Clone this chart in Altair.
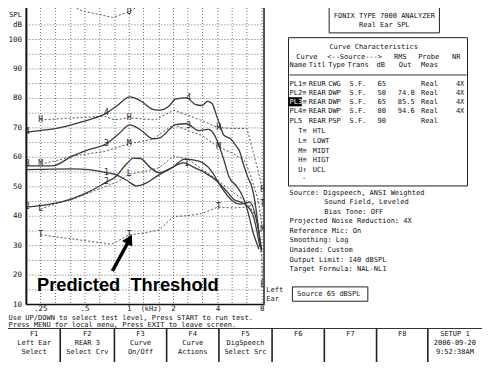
import altair as alt
import pandas as pd

# ------------------------------------------------------------------ data
# measured curves: frequency (kHz) / level (dB SPL)
pl1_f = [0.2, 0.41, 0.53, 0.70, 0.83, 0.96, 1.12, 1.31, 1.5, 1.88, 2.35, 2.77, 3.26, 4.0, 4.68, 5.13, 5.69, 6.34, 6.95, 7.72]
pl1_db = [55.8, 56.1, 55.8, 54.8, 53.9, 52.2, 50.3, 51.3, 53.2, 56.1, 58.1, 56.5, 54.8, 51.6, 48.0, 45.7, 44.8, 43.5, 40.2, 29.5]

pl2_f = [0.2, 0.29, 0.41, 0.53, 0.70, 0.8, 0.96, 1.07, 1.19, 1.39, 1.6, 1.96, 2.38, 2.97, 3.6, 4.2, 4.9, 5.7, 6.6, 7.5, 7.95]
pl2_db = [43.1, 44.1, 46.0, 48.3, 51.6, 53.2, 57.8, 59.7, 59.6, 56.5, 54.8, 56.5, 59.4, 58.7, 55.5, 50.0, 45.7, 44.1, 44.8, 36.0, 28.5]

pl3_f = [0.2, 0.3, 0.41, 0.53, 0.70, 0.85, 1.01, 1.2, 1.45, 1.6, 1.88, 2.06, 2.45, 2.97, 3.44, 3.77, 4.06, 4.4, 4.75, 5.4, 5.9, 6.4, 6.9, 7.6]
pl3_db = [57.1, 57.1, 60.4, 62.6, 64.6, 68.0, 71.0, 69.2, 66.3, 66.5, 69.5, 71.1, 71.4, 69.1, 69.5, 67.8, 64.2, 59.0, 53.5, 50.0, 46.7, 41.5, 35.0, 28.8]

pl4_f = [0.2, 0.247, 0.32, 0.41, 0.53, 0.70, 0.83, 1.01, 1.19, 1.45, 1.6, 1.88, 2.06, 2.45, 2.8, 3.1, 3.4, 3.65, 3.9, 4.15, 4.4, 4.9, 5.3, 5.6, 5.95, 6.4, 6.8, 7.1, 7.5, 7.9]
pl4_db = [68.5, 69.1, 69.8, 71.1, 72.7, 75.0, 77.6, 80.5, 79.2, 76.3, 76.0, 77.6, 79.8, 80.2, 78.0, 77.6, 79.0, 78.3, 74.5, 70.5, 67.5, 66.2, 64.0, 62.2, 57.8, 53.2, 50.0, 45.7, 37.0, 28.0]

# targets / thresholds
higt_f = [0.25, 0.68, 0.79, 1.0, 1.5, 2.0, 2.5, 3.15, 4.0, 5.0, 6.3, 6.85, 7.5, 8.05]
higt_db = [72.7, 74.0, 72.7, 73.4, 72.7, 76.0, 74.3, 72.4, 70.1, 69.8, 69.8, 63.0, 55.5, 49.0]
midt_f = [0.25, 0.31, 0.41, 0.68, 1.0, 1.45, 2.0, 2.5, 3.1, 4.0, 5.0, 6.1, 6.6, 7.5, 8.05]
midt_db = [57.8, 58.7, 60.4, 62.0, 64.6, 66.2, 71.1, 69.1, 67.5, 63.6, 61.5, 58.7, 54.5, 45.7, 35.3]
lowt_f = [0.25, 0.31, 0.41, 0.68, 0.83, 1.0, 1.25, 1.6, 2.0, 2.5, 3.1, 4.0, 5.1, 6.3, 7.4, 7.95, 8.05]
lowt_db = [42.5, 44.1, 45.7, 50.0, 51.6, 54.3, 55.1, 56.5, 60.4, 59.4, 56.1, 52.2, 48.0, 44.8, 39.2, 26.0, 16.5]
htl_f = [0.25, 0.76, 1.0, 1.3, 1.6, 2.0, 2.5, 3.1, 4.0, 5.1, 6.3, 7.4, 8.05]
htl_db = [33.7, 30.5, 33.7, 34.4, 35.4, 39.9, 40.2, 40.9, 43.1, 42.8, 43.1, 44.8, 44.1]
ucl_f = [0.35, 0.48, 0.77, 1.0, 1.3]
ucl_db = [113.0, 109.7, 107.5, 109.4, 113.0]

# curve label characters drawn on the curves
mk_solid_f = [0.203, 0.70, 2.53, 0.203, 0.70, 2.53, 0.203, 0.70, 0.70, 2.45]
mk_solid_db = [68.5, 75.0, 80.0, 57.6, 64.6, 70.6, 43.1, 51.6, 54.6, 57.8]
mk_solid_t = ['4', '4', '4', '3', '3', '3', '2', '2', '1', '1']
mk_tgt_f = [0.25, 1.0, 4.05, 8.05, 0.25, 1.0, 4.05, 8.05, 0.25, 1.0, 8.05, 0.25, 1.0, 4.05, 8.05, 1.0]
mk_tgt_db = [72.7, 73.4, 70.1, 49.0, 57.8, 64.6, 63.6, 35.3, 42.5, 54.3, 16.5, 33.7, 33.7, 43.1, 44.1, 109.4]
mk_tgt_t = ['H', 'H', 'H', 'H', 'M', 'M', 'M', 'M', 'L', 'L', 'L', 'T', 'T', 'T', 'T', 'U']

# axes
grid_f = [0.2, 0.25, 0.315, 0.4, 0.5, 0.63, 0.8, 1.0, 1.25, 1.6, 2.0, 2.5, 3.15, 4.0, 5.0, 6.3, 8.0]
grid_db = list(range(10, 106, 5))
xtick_f = [0.25, 0.5, 1.0, 2.0, 4.0, 8.0]
xtick_t = ['.25', '.5', '1', '2', '4', '8']
ytick_db = [10, 20, 30, 40, 50, 60, 70, 80, 90, 100, 105]
ytick_t = ['10', '20', '30', '40', '50', '60', '70', '80', '90', '100', 'dB']

# annotation
note_text = "Predicted\u00a0 Threshold"
note_f, note_db = 0.236, 16.2
arrow_f = [0.768, 0.99]
arrow_db = [21.4, 31.5]
arrow_head_f, arrow_head_db = 1.004, 32.2

# ------------------------------------------------------------------ layout
MONO = "DejaVu Sans Mono"
SX, SY = 474 / 490, 354 / 370
L_REF, R_REF, B_REF = 19, 265.2, 310
W = (R_REF - L_REF) * SX
H = B_REF * SY
PAD_L = L_REF * SX
PAD_R = 474 - PAD_L - W
PAD_B = 354 - H


def X(xr):
    return xr * SX - PAD_L


def Y(yr):
    return yr * SY


xscale = alt.Scale(type='log', domain=[0.2, 8.3], nice=False)
yscale = alt.Scale(domain=[10, 110.7], nice=False, zero=False)


def xf(field='f'):
    return alt.X(field + ':Q', scale=xscale, axis=None)


def yf(field='db'):
    return alt.Y(field + ':Q', scale=yscale, axis=None)


def curve_df(series):
    rows = []
    for name, fs, ds in series:
        for f, d in zip(fs, ds):
            rows.append({'f': f, 'db': d, 'curve': name})
    return pd.DataFrame(rows)


solid = curve_df([('PL1', pl1_f, pl1_db), ('PL2', pl2_f, pl2_db),
                  ('PL3', pl3_f, pl3_db), ('PL4', pl4_f, pl4_db)])
dashed = curve_df([('H', higt_f, higt_db), ('M', midt_f, midt_db), ('L', lowt_f, lowt_db),
                   ('T', htl_f, htl_db), ('U', ucl_f, ucl_db)])

# grid + axis lines
vgrid = alt.Chart(pd.DataFrame({'f': grid_f})).mark_rule(color='#707070', strokeWidth=1, strokeDash=[1, 2]).encode(
    x=xf(), y=alt.value(0), y2=alt.value(H))
hgrid = alt.Chart(pd.DataFrame({'db': grid_db})).mark_rule(color='#707070', strokeWidth=1, strokeDash=[1, 2]).encode(
    y=yf(), x=alt.value(0), x2=alt.value(W))
left_axis = alt.Chart(pd.DataFrame({'a': [0]})).mark_rule(color='#111', strokeWidth=2).encode(
    x=alt.value(0), y=alt.value(0), y2=alt.value(H))
bottom_axis = alt.Chart(pd.DataFrame({'a': [0]})).mark_rule(color='#111', strokeWidth=1.5).encode(
    y=alt.value(H), x=alt.value(0), x2=alt.value(W))
right_border = alt.Chart(pd.DataFrame({'a': [0]})).mark_rule(color='#555', strokeWidth=2).encode(
    x=alt.value(W - 0.5), y=alt.value(0), y2=alt.value(H))
xlabels = alt.Chart(pd.DataFrame({'f': xtick_f, 't': xtick_t})).mark_text(
    font=MONO, fontSize=7.5, color='#111', baseline='middle').encode(x=xf(), y=alt.value(Y(314.5)), text='t:N')
ylabels = alt.Chart(pd.DataFrame({'db': ytick_db, 't': ytick_t})).mark_text(
    font=MONO, fontSize=7.5, color='#111', baseline='middle', align='right').encode(
    y=yf(), x=alt.value(X(14.5)), text='t:N')

solid_layer = alt.Chart(solid).mark_line(color='#3a3a3a', strokeWidth=1.3, interpolate='monotone', clip=True).encode(
    x=xf(), y=yf(), detail='curve:N')
dashed_layer = alt.Chart(dashed).mark_line(color='#555', strokeWidth=1, strokeDash=[2, 2], clip=True).encode(
    x=xf(), y=yf(), detail='curve:N')

mk = pd.DataFrame({'f': mk_solid_f + mk_tgt_f, 'db': mk_solid_db + mk_tgt_db, 't': mk_solid_t + mk_tgt_t})
mk_layer = alt.Chart(mk).mark_text(font=MONO, fontSize=8, color='#222', clip=True).encode(
    x=xf(), y=yf(), text='t:N')

arrow_layer = alt.Chart(pd.DataFrame({'f': arrow_f, 'db': arrow_db})).mark_line(color='black', strokeWidth=3.5).encode(
    x=xf(), y=yf())
head_layer = alt.Chart(pd.DataFrame({'f': [arrow_head_f], 'db': [arrow_head_db]})).mark_point(
    shape='triangle-up', size=135, filled=True, color='black', opacity=1, angle=28).encode(x=xf(), y=yf())
note_layer = alt.Chart(pd.DataFrame({'nf': [note_f], 'nd': [note_db], 't': [note_text]})).mark_text(
    font='Liberation Sans', fontWeight='bold', fontSize=18.3, align='left', baseline='middle', color='black').encode(
    x=xf('nf'), y=yf('nd'), text='t:N')


# ---- decoration helpers (panel text, boxes) in reference pixels
def text_layer(items, align='left', size=7.0, color='#111'):
    df = pd.DataFrame([{'px': X(x), 'py': Y(y), 't': t} for x, y, t in items])
    return alt.Chart(df).mark_text(align=align, baseline='middle', font=MONO, fontSize=size, color=color).encode(
        x=alt.X('px:Q', scale=None), y=alt.Y('py:Q', scale=None), text='t:N')


def rect_layer(items, stroke='#222', sw=1, fill='white', fop=0):
    df = pd.DataFrame([{'a': X(x1), 'b': X(x2), 'c': Y(y1), 'd': Y(y2)} for x1, x2, y1, y2 in items])
    return alt.Chart(df).mark_rect(stroke=stroke, strokeWidth=sw, fill=fill, fillOpacity=fop).encode(
        x=alt.X('a:Q', scale=None), x2='b:Q', y=alt.Y('c:Q', scale=None), y2='d:Q')


def rule_layer(items, color='#222', sw=1):
    df = pd.DataFrame([{'a': X(x1), 'b': X(x2), 'c': Y(y1), 'd': Y(y2)} for x1, x2, y1, y2 in items])
    return alt.Chart(df).mark_rule(color=color, strokeWidth=sw).encode(
        x=alt.X('a:Q', scale=None), x2='b:Q', y=alt.Y('c:Q', scale=None), y2='d:Q')


left_items = []
cols = [291, 311, 331, 353, 382, 403, 427, 463]
rows = [
    (79, ["PL1≡", "REUR", "CWG", "S.F.", "65", "", "Real", "4X"]),
    (88.5, ["PL2≡", "REAR", "DWP", "S.F.", "50", "74.0", "Real", "4X"]),
    (98, ["", "REAR", "DWP", "S.F.", "65", "85.5", "Real", "4X"]),
    (108, ["PL4≡", "REAR", "DWP", "S.F.", "80", "94.6", "Real", "4X"]),
    (118, ["PL5", "REAR", "PSP", "S.F.", "90", "", "Real", ""]),
]
for yy, vals in rows:
    for cx, v in zip(cols, vals):
        if v:
            left_items.append((cx, yy, v))
left_items += [(304.5, 98, "≡")]
left_items += [(298, 51, "Curve"), (330, 51, "<--Source--->"), (399, 51, "RMS"), (424, 51, "Probe"), (459, 51, "NR"),
               (291, 60, "Name"), (311, 60, "Titl"), (331, 60, "Type"), (351, 60, "Trans"), (381, 60, "dB"),
               (404, 60, "Out"), (427, 60, "Meas")]
left_items += [(300, 128.5, "T≡"), (315, 128.5, "HTL"), (300, 139, "L≡"), (315, 139, "LOWT"),
               (300, 149, "M≡"), (315, 149, "MIDT"), (300, 159, "H≡"), (315, 159, "HIGT"),
               (300, 169, "U↑"), (315, 169, "UCL"), (304, 178, "-")]
left_items += [(291, 193, "Source: Digspeech, ANSI Weighted"), (327, 203, "Sound Field, Leveled"),
               (327, 213, "Bias Tone: OFF"), (291, 223, "Projected Noise Reduction: 4X"),
               (291, 233, "Reference Mic: On"), (291, 243, "Smoothing: Log"), (291, 253, "Unaided: Custom"),
               (291, 263, "Output Limit: 140 dBSPL"), (291, 273, "Target Formula: NAL-NL1")]
left_items += [(299, 298.5, "Source  65 dBSPL"), (267, 295, "Left"), (267, 304, "Ear"),
               (0.5, 323.5, "Use UP/DOWN to select test level, Press START to run test."),
               (0.5, 331.5, "Press MENU for local menu, Press EXIT to leave screen.")]

center_items = [(389, 8, "FONIX TYPE 7000 ANALYZER"), (389, 18, "Real Ear SPL"),
                (378, 41, "Curve Characteristics"), (148, 314.5, "(kHz)")]
fkeys = [["F1", "Left Ear", "Select"], ["F2", "REAR 3", "Select Crv"], ["F3", "Curve", "On/Off"],
         ["F4", "Curve", "Actions"], ["F5", "DigSpeech", "Select Src"], ["F6"], ["F7"], ["F8"],
         ["SETUP 1", "2006-09-20", "9:52:38AM"]]
bounds = [0, 54, 110, 164, 218, 273, 327, 381, 434, 490]
for i, lines in enumerate(fkeys):
    cx = (bounds[i] + bounds[i + 1]) / 2
    for j, t in enumerate(lines):
        center_items.append((cx, 340.5 + 9.6 * j, t))

right_items = [(14.5, 7, "SPL")]

boxes = rect_layer([(332, 446, -3, 26), (290, 475, 31, 186), (294, 372, 291.5, 306.5)])
hilite = rect_layer([(290, 303.5, 93.5, 102.5)], stroke='black', sw=0.5, fill='black', fop=1)
hilite_txt = text_layer([(291, 98, "PL3")], color='white')
lines = rule_layer([(291, 474, 70, 70), (0, 490, 335, 335)], color='#333', sw=1)
fsep = rule_layer([(b, b, 335, 372) for b in bounds[1:-1]], color='#222', sw=1.6)

chart = alt.layer(
    vgrid, hgrid, left_axis, bottom_axis, right_border, xlabels, ylabels,
    dashed_layer, solid_layer, mk_layer, arrow_layer, head_layer, note_layer,
    boxes, hilite, hilite_txt, lines, fsep,
    text_layer(left_items), text_layer(center_items, align='center'), text_layer(right_items, align='right'),
).properties(
    width=W, height=H,
    padding={'left': PAD_L, 'top': 0, 'right': PAD_R, 'bottom': PAD_B},
    autosize=alt.AutoSizeParams(type='none'),
    background='white',
).configure_view(stroke=None)

chart.save("out.html", embed_options={"renderer": "svg", "actions": False})
